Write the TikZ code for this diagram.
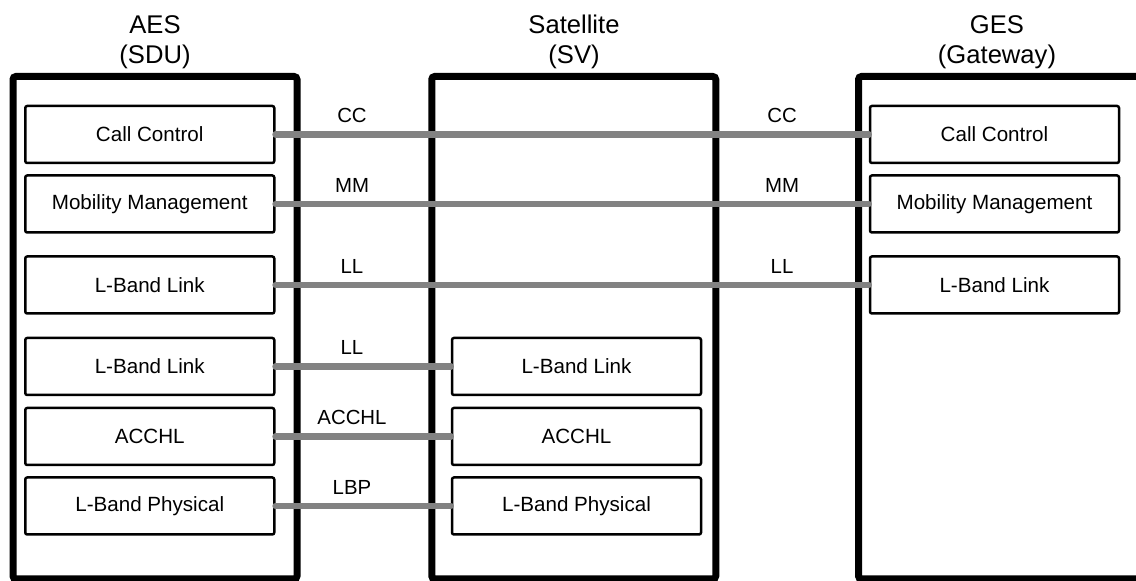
\documentclass[tikz,border=0pt]{standalone}
\usepackage{fontspec}
\setmainfont{Liberation Sans}
\usepackage{xcolor}
\definecolor{ink}{HTML}{000000}
\definecolor{wire}{HTML}{828282}
\usepackage{tikz}
\usetikzlibrary{positioning,calc}
\tikzset{
  stack/.style={draw=ink,rounded corners=1.5pt,line width=3.5pt,minimum width=142pt,
    minimum height=251.25pt,inner sep=0pt},
  layer/.style={draw=ink,fill=white,rounded corners=1pt,line width=1.25pt,minimum width=124.5pt,
    minimum height=28.5pt,inner sep=0pt,font=\fontsize{10.3}{12}\selectfont},
  ttl/.style={align=center,font=\fontsize{12.8}{14.8}\selectfont},
  peer/.style={draw=wire,line width=3.2pt,line cap=round},
  lbl/.style={font=\fontsize{10.2}{12}\selectfont,inner sep=0pt},
}

\begin{document}
\begin{tikzpicture}[x=0.5pt,y=-0.5pt]
  \useasboundingbox (0,0) rectangle (1136,581);
  % entities
  \node[stack] (aes) at (155,327.75) {};
  \node[stack] (sat) at (573.75,327.75) {};
  \node[stack] (ges) at (1000.5,327.75) {};
  \node[ttl] (aest) at (155,42) {AES\\(SDU)};
  \node[ttl] (satt) at (574,42) {Satellite\\(SV)};
  \node[ttl] (gest) at (997,42) {GES\\(Gateway)};
  % AES stack
  \node[layer] (aescc) at (149.75,134.5) {Call Control};
  \node[layer] (aesmm) at (149.75,204) {Mobility Management};
  \node[layer] (aesll) at (149.75,285) {L-Band Link};
  \node[layer] (aesll2) at (149.75,366.5) {L-Band Link};
  \node[layer] (aesac) at (149.75,436.5) {ACCHL};
  \node[layer] (aeslbp) at (149.75,506) {L-Band Physical};
  % satellite stack
  \node[layer] (satll) at (576.5,366.5) {L-Band Link};
  \node[layer] (satac) at (576.5,436.5) {ACCHL};
  \node[layer] (satlbp) at (576.5,506) {L-Band Physical};
  % GES stack
  \node[layer] (gescc) at (994.5,134.5) {Call Control};
  \node[layer] (gesmm) at (994.5,204) {Mobility Management};
  \node[layer] (gesll) at (994.5,285) {L-Band Link};
  % peer links
  \draw[peer] (aescc.east) -- (gescc.west);
  \draw[peer] (aesmm.east) -- (gesmm.west);
  \draw[peer] (aesll.east) -- (gesll.west);
  \draw[peer] (aesll2.east) -- (satll.west);
  \draw[peer] (aesac.east) -- (satac.west);
  \draw[peer] (aeslbp.east) -- (satlbp.west);
  \node[lbl] (cc1) at (352,115) {CC};
  \node[lbl] (cc2) at (782,115) {CC};
  \node[lbl] (mm1) at (352,185) {MM};
  \node[lbl] (mm2) at (782,185) {MM};
  \node[lbl] (ll1) at (352,266) {LL};
  \node[lbl] (ll2) at (782,266) {LL};
  \node[lbl] (ll3) at (352,347) {LL};
  \node[lbl] (ac1) at (352,417) {ACCHL};
  \node[lbl] (lbp1) at (352,487) {LBP};
\end{tikzpicture}
\end{document}
